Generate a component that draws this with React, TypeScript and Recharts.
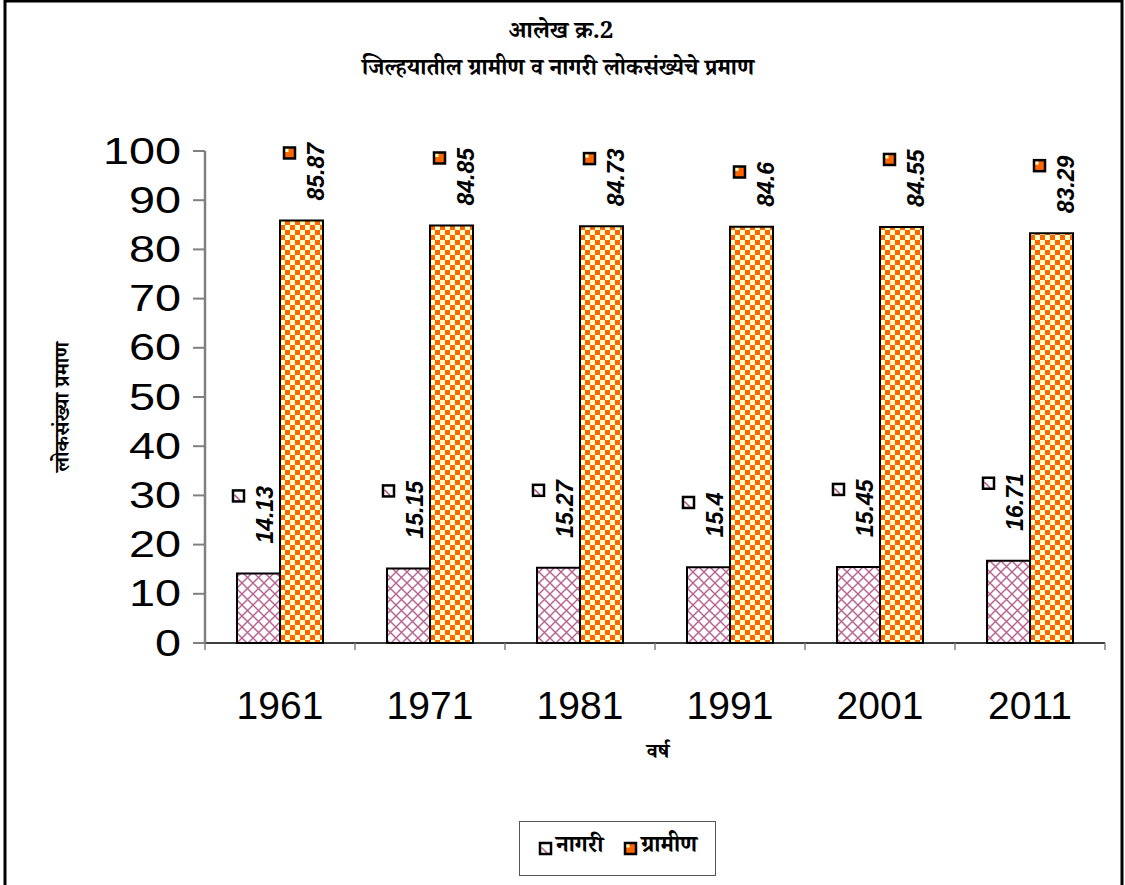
import React from 'react';
import { BarChart, Bar, XAxis, YAxis, LabelList, Legend } from 'recharts';

const years = ['1961', '1971', '1981', '1991', '2001', '2011'];
const urban = [14.13, 15.15, 15.27, 15.4, 15.45, 16.71];
const rural = [85.87, 84.85, 84.73, 84.6, 84.55, 83.29];
const yTicks = [0, 10, 20, 30, 40, 50, 60, 70, 80, 90, 100];

const URBAN_NAME = 'नागरी';
const RURAL_NAME = 'ग्रामीण';
const TITLE1 = 'आलेख क्र.2';
const TITLE2 = 'जिल्हयातील ग्रामीण व नागरी लोकसंख्येचे प्रमाण';
const Y_LABEL = 'लोकसंख्या प्रमाण';
const X_LABEL = 'वर्ष';
const SERIES_ORDER = ['urban', 'rural'];

const data = years.map((y, i) => ({ year: y, urban: urban[i], rural: rural[i] }));

const W = 1125;
const H = 885;
const PLOT_L = 205;
const PLOT_R = 1105;
const PLOT_T = 151;
const PLOT_B = 643;
const HALF_BAND = (PLOT_R - PLOT_L) / years.length / 2;

const DEVA = "'Noto Serif Devanagari', 'Noto Sans Devanagari', 'Lohit Devanagari', 'Mangal', 'Liberation Serif', serif";
const NUM = "'Liberation Sans', Arial, sans-serif";
const ORANGE = '#FF6600';
const CREAM = '#FFFFCC';
const MAUVE = '#B8608F';

const LABEL_FS = 23;
const estLen = (s: string) => {
  let l = 0;
  for (const c of s) l += c === '.' ? 0.278 : 0.556;
  return l * LABEL_FS;
};

const Marker = ({ x, y, kind }: { x: number; y: number; kind: 'urban' | 'rural' }) => {
  const h = 5.5;
  return (
    <g>
      {kind === 'rural' ? (
        <>
          <rect x={x - h} y={y - h} width={2 * h} height={2 * h} fill={ORANGE} />
          <rect x={x - h} y={y - h} width={4.5} height={4.5} fill={CREAM} />
        </>
      ) : (
        <>
          <rect x={x - h} y={y - h} width={2 * h} height={2 * h} fill="#fff" />
          <line x1={x - 4} y1={y - 1} x2={x + 1.5} y2={y + 4.5} stroke={MAUVE} strokeWidth={1.6} />
        </>
      )}
      <rect x={x - h} y={y - h} width={2 * h} height={2 * h} fill="none" stroke="#000" strokeWidth={2.5} />
    </g>
  );
};

const makeLabel = (kind: 'urban' | 'rural', dx: number, gap: number) => (props: any) => {
  const { x, y, width, value } = props;
  const s = String(value);
  const tx = x + width / 2 + dx;
  const by = y - gap;
  const len = estLen(s);
  return (
    <g>
      <text
        x={tx}
        y={by}
        transform={`rotate(-90, ${tx}, ${by})`}
        textAnchor="start"
        dominantBaseline="central"
        fontFamily={NUM}
        fontWeight="bold"
        fontStyle="italic"
        fontSize={LABEL_FS}
        fill="#000"
      >
        {s}
      </text>
      <Marker x={tx - 27} y={by - len + 10} kind={kind} />
    </g>
  );
};

const XTick = (props: any) => {
  const { x, payload, index } = props;
  const last = index === years.length - 1;
  return (
    <g>
      <line x1={x - HALF_BAND} y1={PLOT_B} x2={x - HALF_BAND} y2={PLOT_B + 7} stroke="#808080" strokeWidth={1.5} />
      {last && (
        <line x1={x + HALF_BAND} y1={PLOT_B} x2={x + HALF_BAND} y2={PLOT_B + 7} stroke="#808080" strokeWidth={1.5} />
      )}
      <text x={x} y={PLOT_B + 76} textAnchor="middle" fontFamily={NUM} fontSize={39} fill="#000">
        {payload.value}
      </text>
    </g>
  );
};

const YTick = (props: any) => {
  const { x, y, payload } = props;
  return (
    <text
      transform={`translate(${x - 10}, ${y}) scale(1.3, 1)`}
      x={0}
      y={0}
      textAnchor="end"
      dominantBaseline="central"
      fontFamily={NUM}
      fontSize={36}
      fill="#000"
    >
      {payload.value}
    </text>
  );
};

const LegendContent = (props: any) => {
  const items = [...(props.payload || [])].sort(
    (a: any, b: any) => SERIES_ORDER.indexOf(a.dataKey) - SERIES_ORDER.indexOf(b.dataKey)
  );
  return (
    <div
      style={{
        width: 197,
        height: 55,
        border: '1px solid #555',
        boxSizing: 'border-box',
        display: 'flex',
        alignItems: 'center',
        justifyContent: 'center',
        gap: 20,
        background: '#fff',
      }}
    >
      {items.map((it: any) => (
        <div key={it.value} style={{ display: 'flex', alignItems: 'center' }}>
          <svg width={15} height={15} style={{ marginRight: 3 }}>
            <Marker x={7.5} y={7.5} kind={it.dataKey === 'rural' ? 'rural' : 'urban'} />
          </svg>
          <span style={{ fontFamily: DEVA, fontWeight: 'bold', fontSize: 23, color: '#000' }}>{it.value}</span>
        </div>
      ))}
    </div>
  );
};

export default function App() {
  return (
    <div style={{ position: 'absolute', left: 0, top: 0, width: W, height: H, background: '#fff' }}>
      <BarChart
        width={W}
        height={H}
        data={data}
        barSize={43}
        barGap={0}
        margin={{ top: PLOT_T, right: W - PLOT_R, bottom: 182, left: 30 }}
      >
        <defs>
          <pattern id="checker" patternUnits="userSpaceOnUse" width={10} height={10}>
            <rect width={10} height={10} fill={ORANGE} />
            <rect x={0} y={0} width={5} height={5} fill={CREAM} />
            <rect x={5} y={5} width={5} height={5} fill={CREAM} />
          </pattern>
          <pattern id="hatch" patternUnits="userSpaceOnUse" width={11} height={11}>
            <rect width={11} height={11} fill="#fff" />
            <path d="M0,0 L11,11 M11,0 L0,11" stroke={MAUVE} strokeWidth={1.4} />
          </pattern>
        </defs>
        <rect x={5} y={1} width={1117} height={900} fill="none" stroke="#000" strokeWidth={3} />
        <text x={561} y={38} textAnchor="middle" fontFamily={DEVA} fontWeight="bold" fontSize={24} fill="#000">
          {TITLE1}
        </text>
        <text x={558} y={75} textAnchor="middle" fontFamily={DEVA} fontWeight="bold" fontSize={23} fill="#000">
          {TITLE2}
        </text>
        <text
          x={65}
          y={407}
          transform="rotate(-90, 65, 407)"
          textAnchor="middle"
          dominantBaseline="central"
          fontFamily={DEVA}
          fontWeight="bold"
          fontSize={21}
          fill="#000"
        >
          {Y_LABEL}
        </text>
        <text x={658} y={758} textAnchor="middle" fontFamily={DEVA} fontWeight="bold" fontSize={21} fill="#000">
          {X_LABEL}
        </text>
        <XAxis
          dataKey="year"
          height={60}
          axisLine={{ stroke: '#000', strokeWidth: 1.5 }}
          tickLine={false}
          tick={<XTick />}
          interval={0}
        />
        <YAxis
          width={175}
          domain={[0, 100]}
          ticks={yTicks}
          interval={0}
          axisLine={{ stroke: '#808080', strokeWidth: 2.5 }}
          tickLine={{ stroke: '#808080', strokeWidth: 2 }}
          tickSize={12}
          tick={<YTick />}
        />
        <Legend
          layout="horizontal"
          verticalAlign="middle"
          align="center"
          content={<LegendContent />}
          wrapperStyle={{ position: 'absolute', left: 519, top: 821, width: 197, height: 55 }}
        />
        <Bar dataKey="urban" name={URBAN_NAME} fill="url(#hatch)" stroke="#000" strokeWidth={2} isAnimationActive={false}>
          <LabelList dataKey="urban" content={makeLabel('urban', 7, 30)} />
        </Bar>
        <Bar dataKey="rural" name={RURAL_NAME} fill="url(#checker)" stroke="#000" strokeWidth={2} isAnimationActive={false}>
          <LabelList dataKey="rural" content={makeLabel('rural', 15, 20)} />
        </Bar>
      </BarChart>
    </div>
  );
}
